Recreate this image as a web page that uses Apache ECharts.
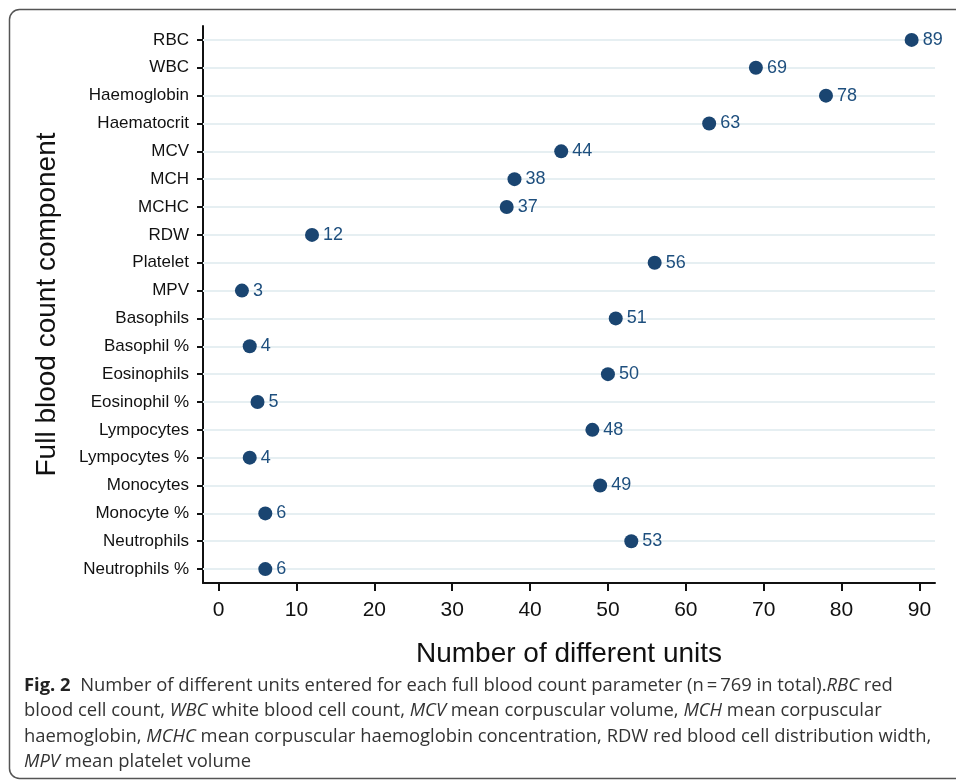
<!DOCTYPE html>
<html><head><meta charset="utf-8">
<script src="https://cdn.jsdelivr.net/npm/echarts@6/dist/echarts.min.js"></script>
<style>html,body{margin:0;padding:0;background:#fff}#c{width:956px;height:780px}</style>
</head><body><div id="c"></div>
<script>
const categories = ["RBC","WBC","Haemoglobin","Haematocrit","MCV","MCH","MCHC","RDW","Platelet","MPV","Basophils","Basophil %","Eosinophils","Eosinophil %","Lympocytes","Lympocytes %","Monocytes","Monocyte %","Neutrophils","Neutrophils %"];
const unitCounts = [89,69,78,63,44,38,37,12,56,3,51,4,50,5,48,4,49,6,53,6];
const xTicks = [0,10,20,30,40,50,60,70,80,90];

const chart = echarts.init(document.getElementById('c'), null, {renderer:'canvas'});
const capFont = '"Open Sans","Noto Sans",sans-serif';
const axFont = '"Liberation Sans",Arial,sans-serif';
chart.setOption({
  backgroundColor:'#fff',
  animation:false,
  grid:{left:203,right:21,top:26,bottom:197,containLabel:false},
  xAxis:{
    type:'value',min:-2,max:92,
    name:'Number of different units',nameLocation:'middle',nameGap:57,
    nameTextStyle:{fontFamily:axFont,fontSize:28,color:'#111'},
    axisLine:{show:true,onZero:false,lineStyle:{color:'#111',width:2}},
    axisTick:{show:true,length:8,lineStyle:{color:'#111',width:2},customValues:xTicks},
    axisLabel:{fontFamily:axFont,fontSize:21,color:'#111',margin:17,customValues:xTicks},
    splitLine:{show:false}
  },
  yAxis:{
    type:'category',data:categories,inverse:true,boundaryGap:true,
    name:'Full blood count component',nameLocation:'middle',nameGap:142,
    nameTextStyle:{fontFamily:axFont,fontSize:28,color:'#111'},
    axisLine:{show:true,onZero:false,lineStyle:{color:'#111',width:2}},
    axisTick:{show:true,alignWithLabel:true,length:6,lineStyle:{color:'#111',width:2}},
    axisLabel:{fontFamily:axFont,fontSize:17,color:'#111',margin:14},
    splitLine:{show:false}
  },
  series:[{
    type:'scatter',
    data:unitCounts.map((v,i)=>[v,categories[i]]),
    symbolSize:14,
    itemStyle:{color:'#1a4571',opacity:1},
    label:{show:true,position:'right',distance:4,formatter:p=>p.value[0],
      fontFamily:axFont,fontSize:18,color:'#1e4f7e'},
    markLine:{silent:true,symbol:'none',label:{show:false},animation:false,
      lineStyle:{color:'#e6eff2',width:2,type:'solid'},
      data:categories.map(c=>({yAxis:c})),z:1},
    z:3
  }],
  graphic:[
    {type:'rect',shape:{x:9.5,y:9.5,width:960,height:769,r:10},style:{fill:'none',stroke:'#555',lineWidth:1.5},silent:true},
    {type:'text',left:24,top:673,style:{
      text:'{b|Fig. 2}  Number of different units entered for each full blood count parameter (n\u2009=\u2009769 in total).{i|RBC} red\n'+
           'blood cell count, {i|WBC} white blood cell count, {i|MCV} mean corpuscular volume, {i|MCH} mean corpuscular\n'+
           'haemoglobin, {i|MCHC} mean corpuscular haemoglobin concentration, RDW red blood cell distribution width,\n'+
           '{i|MPV} mean platelet volume',
      font:'18.4px '+capFont,fill:'#333',lineHeight:25.5,
      rich:{b:{fontWeight:'bold',fontFamily:capFont,fontSize:18.4,fill:'#222',lineHeight:25.5},
            i:{fontStyle:'italic',fontFamily:capFont,fontSize:18.4,fill:'#333',lineHeight:25.5}}
    }}
  ]
});
</script></body></html>
